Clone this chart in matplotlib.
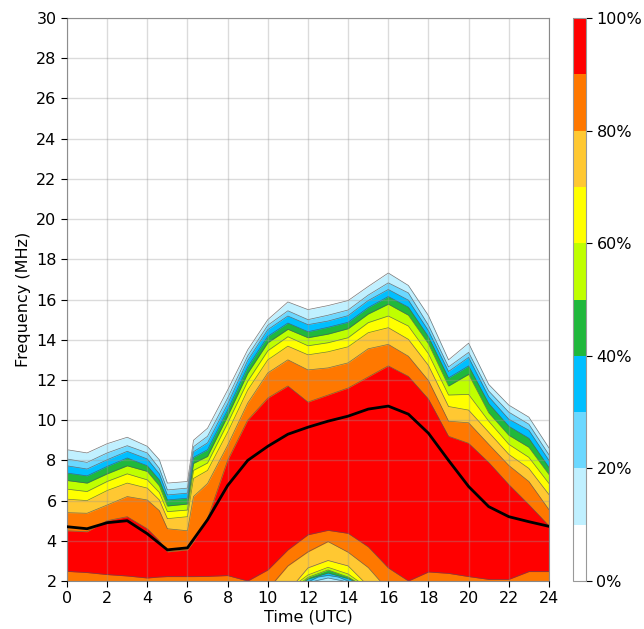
import matplotlib
matplotlib.use('Agg')
import matplotlib.pyplot as plt
import matplotlib.cm as cm
from matplotlib.colors import ListedColormap, BoundaryNorm
import numpy as np

# hours where the contour edges were read (extra points at the steep drops/rises)
hours_c = [0, 1, 2, 3, 4, 4.6, 5, 6, 6.3, 7, 8, 9, 10, 11, 12, 13, 14, 15, 16, 17, 18, 19, 20, 21, 22, 23, 24]

# upper frequency (MHz) where reliability drops below each level
up10 = [8.53, 8.37, 8.83, 9.15, 8.7, 8.03, 6.87, 6.95, 9.0, 9.6, 11.5, 13.5, 15.0, 15.88, 15.5, 15.7, 15.95, 16.65, 17.32, 16.7, 15.2, 13.0, 13.83, 11.78, 10.75, 10.15, 8.62]
up20 = [8.07, 7.9, 8.37, 8.73, 8.37, 7.6, 6.53, 6.62, 8.68, 9.2, 11.1, 13.2, 14.72, 15.44, 15.0, 15.22, 15.48, 16.22, 16.83, 16.33, 14.72, 12.65, 13.37, 11.45, 10.4, 9.8, 8.28]
up30 = [7.73, 7.57, 8.03, 8.45, 8.07, 7.33, 6.28, 6.37, 8.43, 8.87, 10.8, 12.97, 14.5, 15.18, 14.75, 14.93, 15.2, 15.95, 16.5, 15.97, 14.45, 12.42, 13.12, 11.17, 10.05, 9.5, 8.0]
up40 = [7.37, 7.23, 7.7, 8.12, 7.73, 7.03, 6.03, 6.12, 8.15, 8.53, 10.5, 12.65, 14.17, 14.83, 14.4, 14.62, 14.87, 15.6, 16.15, 15.62, 14.15, 12.1, 12.7, 10.83, 9.7, 9.1, 7.65]
up50 = [7.0, 6.87, 7.33, 7.73, 7.45, 6.73, 5.73, 5.83, 7.85, 8.2, 10.2, 12.33, 13.85, 14.52, 14.1, 14.28, 14.55, 15.28, 15.77, 15.22, 13.8, 11.7, 12.28, 10.37, 9.25, 8.65, 7.3]
up60 = [6.57, 6.45, 6.95, 7.33, 7.03, 6.4, 5.45, 5.53, 7.5, 7.87, 9.85, 11.93, 13.45, 14.15, 13.7, 13.85, 14.1, 14.85, 15.18, 14.68, 13.3, 11.25, 11.28, 9.95, 8.8, 8.15, 6.85]
up70 = [6.07, 6.0, 6.5, 6.87, 6.62, 6.03, 5.1, 5.2, 7.1, 7.5, 9.4, 11.5, 13.0, 13.68, 13.25, 13.4, 13.65, 14.35, 14.6, 14.02, 12.72, 10.68, 10.5, 9.4, 8.3, 7.6, 6.3]
up80 = [5.4, 5.37, 5.78, 6.2, 6.03, 5.5, 4.6, 4.5, 6.2, 6.85, 8.75, 10.85, 12.35, 13.0, 12.5, 12.6, 12.85, 13.55, 13.77, 13.18, 11.97, 9.95, 9.87, 8.8, 7.75, 6.95, 5.55]
up90 = [4.5, 4.45, 5.0, 5.2, 4.6, 4.0, 3.45, 3.55, 3.95, 5.1, 8.0, 10.0, 11.1, 11.7, 10.9, 11.25, 11.6, 12.15, 12.7, 12.18, 11.05, 9.2, 8.85, 7.9, 6.8, 5.8, 4.75]

# lower edges near 2 MHz (midday absorption dip)
lo90 = [2.48, 2.42, 2.32, 2.25, 2.15, 2.2, 2.22, 2.22, 2.22, 2.23, 2.27, 2.0, 2.55, 3.55, 4.3, 4.52, 4.37, 3.7, 2.65, 2.0, 2.45, 2.38, 2.22, 2.08, 2.08, 2.47, 2.47]
t80 = [10.36, 11, 12, 13, 14, 15, 15.59]
lo80 = [2.0, 2.75, 3.45, 3.96, 3.43, 2.67, 2.0]
t70 = [11.45, 12, 13, 14, 14.75]
lo70 = [2.0, 2.65, 3.02, 2.75, 2.0]
t60 = [11.6, 12, 13, 14, 14.5]
lo60 = [2.0, 2.3, 2.68, 2.35, 2.0]
t50 = [11.77, 12, 13, 14, 14.34]
lo50 = [2.0, 2.18, 2.55, 2.2, 2.0]
t40 = [11.88, 12, 13, 14, 14.26]
lo40 = [2.0, 2.1, 2.4, 2.12, 2.0]
t30 = [12.1, 12.5, 13, 13.5, 14.0]
lo30 = [2.0, 2.2, 2.28, 2.2, 2.0]
t20 = [12.35, 13, 13.76]
lo20 = [2.0, 2.15, 2.0]

# median frequency curve
hours = list(range(25))
median = [4.7, 4.6, 4.9, 5.0, 4.35, 3.55, 3.65, 5.05, 6.75, 8.0, 8.7, 9.3, 9.65, 9.95, 10.2, 10.55, 10.7, 10.3, 9.35, 8.0, 6.7, 5.7, 5.2, 4.95, 4.72]

colors = ['#ffffff', '#c0f0ff', '#6cd8ff', '#00bfff', '#20b83c',
          '#bfff00', '#ffff00', '#ffc832', '#ff7800', '#ff0000']
edge = '#555555'
fs = 11.5

fig = plt.figure(figsize=(6.44, 6.29), dpi=100)
ax = fig.add_axes([0.104, 0.0763, 0.7484, 0.895])
cax = fig.add_axes([0.8898, 0.0763, 0.0202, 0.895])

uppers = [up10, up20, up30, up40, up50, up60, up70, up80, up90]
for i, up in enumerate(uppers):
    ax.fill_between(hours_c, 2, up, color=colors[i + 1], lw=0, zorder=1)
    ax.plot(hours_c, up, color=edge, lw=0.5, alpha=0.8, zorder=1.2)

lowers = [(hours_c, lo90), (t80, lo80), (t70, lo70), (t60, lo60),
          (t50, lo50), (t40, lo40), (t30, lo30), (t20, lo20)]
for j, (tt, lo) in enumerate(lowers):
    ax.fill_between(tt, 2, lo, color=colors[8 - j], lw=0, zorder=1.5)
    ax.plot(tt, lo, color=edge, lw=0.5, alpha=0.8, zorder=1.6)

ax.plot(hours, median, color='black', lw=2, zorder=3)

ax.set_xlim(0, 24)
ax.set_ylim(2, 30)
ax.set_xticks(range(0, 25, 2))
ax.set_yticks(range(2, 31, 2))
ax.set_axisbelow(False)
ax.grid(color='#999999', alpha=0.35, lw=1)
ax.tick_params(labelsize=fs, length=4)
ax.set_xlabel('Time (UTC)', fontsize=fs, labelpad=2)
ax.set_ylabel('Frequency (MHz)', fontsize=fs, labelpad=4)
for s in ax.spines.values():
    s.set_color('#888888')

cmap = ListedColormap(colors)
norm = BoundaryNorm(np.arange(0, 101, 10), cmap.N)
cb = fig.colorbar(cm.ScalarMappable(norm=norm, cmap=cmap), cax=cax,
                  ticks=[0, 20, 40, 60, 80, 100])
cb.ax.minorticks_off()
cb.ax.set_yticklabels(['0%', '20%', '40%', '60%', '80%', '100%'])
cb.ax.tick_params(labelsize=fs, length=4)
cb.outline.set_edgecolor('#999999')

fig.savefig('out.png', dpi=100)
